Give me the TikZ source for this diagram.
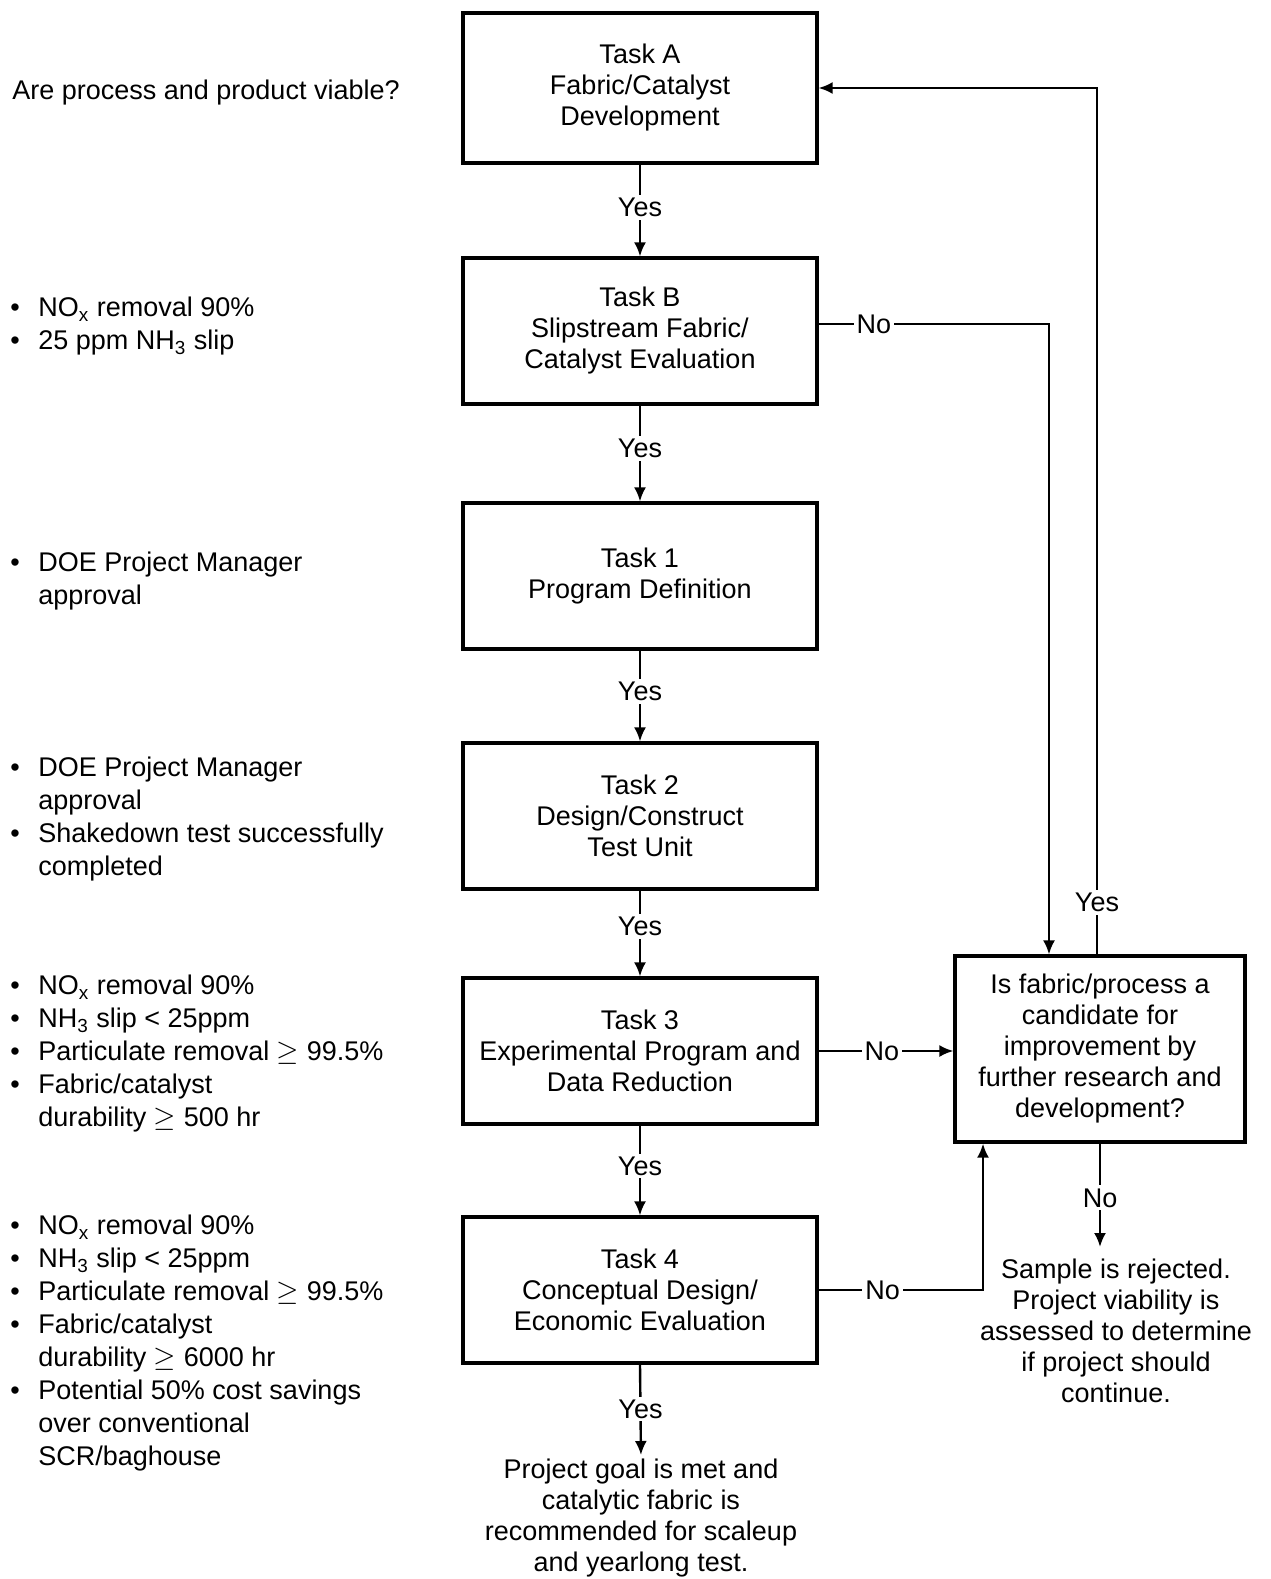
\documentclass[tikz,border=0pt]{standalone}
\usepackage{fontspec}
\setmainfont{Liberation Sans}
\usetikzlibrary{arrows.meta}
\newcommand\fs{\fontsize{13.5pt}{15.5pt}\selectfont}
\newcommand\fsl{\fontsize{13.5pt}{16.5pt}\selectfont}
\newcommand\bl{\makebox[14pt][l]{\textbullet}}
\newcommand\ind{\hspace*{14pt}}
\newcommand\mygeq{$\geq$}
\begin{document}
\begin{tikzpicture}[x=0.5pt,y=-0.5pt,
  every node/.style={font=\fs},
  box/.style={draw,line width=1.6pt,minimum width=177pt,minimum height=73pt,align=center,inner sep=0pt},
  rbox/.style={draw,line width=1.6pt,minimum width=145pt,minimum height=93pt,align=center,inner sep=0pt},
  conn/.style={line width=1.2pt,-{Latex[length=7pt,width=6pt]}},
  lbl/.style={fill=white,inner sep=1.5pt},
  side/.style={anchor=north west,align=left,inner sep=0pt,font=\fsl},
  outtxt/.style={align=center,inner sep=0pt,anchor=north}]
\useasboundingbox (0,0) rectangle (1270,1579);

% main task boxes
\node[box,minimum height=75pt] (A) at (640,88) {Task A\\Fabric/Catalyst\\Development};
\node[box] (B) at (640,331) {Task B\\Slipstream Fabric/\\Catalyst Evaluation};
\node[box] (T1) at (640,576) {Task 1\\Program Definition};
\node[box] (T2) at (640,816) {Task 2\\Design/Construct\\Test Unit};
\node[box] (T3) at (640,1051) {Task 3\\Experimental Program and\\Data Reduction};
\node[box] (T4) at (640,1290) {Task 4\\Conceptual Design/\\Economic Evaluation};
\node[rbox] (R) at (1100,1049) {Is fabric/process a\\candidate for\\improvement by\\further research and\\development?};

% outcome texts
\node[outtxt] (goal) at (641,1459) {Project goal is met and\\catalytic fabric is\\recommended for scaleup\\and yearlong test.};
\node[outtxt] (rej) at (1116,1259) {Sample is rejected.\\Project viability is\\assessed to determine\\if project should\\continue.};

% left side criteria
\node[side] (q) at (12,80) {Are process and product viable?};
\node[side] (LB) at (10,297) {\bl NO\textsubscript{x} removal 90\%\\\bl 25 ppm NH\textsubscript{3} slip};
\node[side] (L1) at (10,552) {\bl DOE Project Manager\\\ind approval};
\node[side] (L2) at (10,757) {\bl DOE Project Manager\\\ind approval\\\bl Shakedown test successfully\\\ind completed};
\node[side] (L3) at (10,975) {\bl NO\textsubscript{x} removal 90\%\\\bl NH\textsubscript{3} slip < 25ppm\\\bl Particulate removal \mygeq{} 99.5\%\\\bl Fabric/catalyst\\\ind durability \mygeq{} 500 hr};
\node[side] (L4) at (10,1215) {\bl NO\textsubscript{x} removal 90\%\\\bl NH\textsubscript{3} slip < 25ppm\\\bl Particulate removal \mygeq{} 99.5\%\\\bl Fabric/catalyst\\\ind durability \mygeq{} 6000 hr\\\bl Potential 50\% cost savings\\\ind over conventional\\\ind SCR/baghouse};

% vertical Yes flow
\draw[conn] (A.south) -- node[lbl,pos=0.47]{Yes} (B.north);
\draw[conn] (B.south) -- node[lbl,pos=0.45]{Yes} (T1.north);
\draw[conn] (T1.south) -- node[lbl,pos=0.45]{Yes} (T2.north);
\draw[conn] (T2.south) -- node[lbl,pos=0.42]{Yes} (T3.north);
\draw[conn] (T3.south) -- node[lbl,pos=0.45]{Yes} (T4.north);
\draw[conn,shorten >=2pt] (T4.south) -- node[lbl,pos=0.47]{Yes} (goal.north);

% No branches
\coordinate (cB) at (1049,0);
\coordinate (cY) at (1097,0);
\coordinate (c4) at (983,0);
\coordinate (bOut) at ([yshift=3.5pt]B.east);
\draw[conn] (bOut) -- node[lbl,pos=0.24]{No} (bOut -| cB) -- (R.north -| cB);
\draw[conn] (R.north -| cY) -- node[lbl,pos=0.06]{Yes} (cY |- A.east) -- (A.east);
\draw[conn] (T3.east) -- node[lbl,pos=0.47]{No} (T3.east -| R.west);
\draw[conn] (T4.east) -- node[lbl,pos=0.39]{No} (T4.east -| c4) -- (c4 |- R.south);
\draw[conn,shorten >=6pt] (R.south) -- node[lbl,pos=0.47]{No} (R.south |- rej.north);
\end{tikzpicture}
\end{document}
